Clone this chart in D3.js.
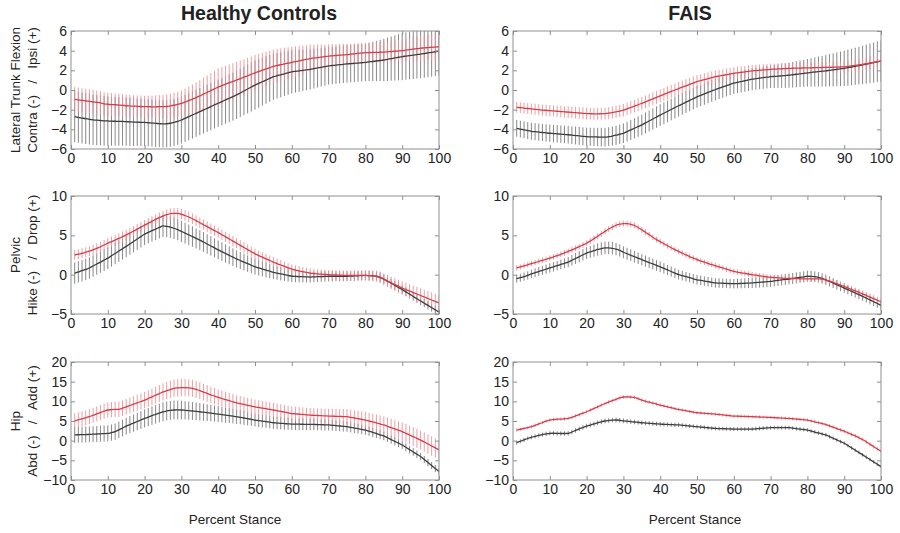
<!DOCTYPE html>
<html>
<head>
<meta charset="utf-8">
<script src="https://cdn.jsdelivr.net/npm/d3@7"></script>
<style>
  body { margin: 0; background: #fff; }
  text { font-family: "Liberation Sans", Arial, sans-serif; fill: #222; }
</style>
</head>
<body>
<div id="chart"></div>
<script>
// percent stance, one sample per percent
var pct = d3.range(1, 101);
var xTicks = [0, 10, 20, 30, 40, 50, 60, 70, 80, 90, 100];

var colTitles = ["Healthy Controls", "FAIS"];
var rowLabels = [
  ["Lateral Trunk Flexion", "Contra (-)   /   Ipsi (+)"],
  ["Pelvic", "Hike (-)   /   Drop (+)"],
  ["Hip", "Abd (-)   /   Add (+)"]
];
var trunkTicks = [-6, -4, -2, 0, 2, 4, 6];
var pelvisTicks = [-5, 0, 5, 10];
var hipTicks = [-10, -5, 0, 5, 10, 15, 20];

// ---- trunk, healthy controls
var trunkHcRed = [
  -0.95,-1.0,-1.05,-1.1,-1.15,-1.2,-1.25,-1.3,-1.4,-1.45,
  -1.48,-1.5,-1.53,-1.56,-1.6,-1.62,-1.64,-1.66,-1.68,-1.7,
  -1.7,-1.71,-1.71,-1.7,-1.7,-1.68,-1.62,-1.55,-1.46,-1.35,
  -1.22,-1.08,-0.93,-0.77,-0.6,-0.42,-0.24,-0.06,0.12,0.3,
  0.45,0.6,0.74,0.87,1.0,1.15,1.3,1.45,1.6,1.75,
  1.88,2.01,2.14,2.27,2.4,2.49,2.57,2.65,2.73,2.8,
  2.88,2.96,3.04,3.12,3.2,3.25,3.3,3.35,3.4,3.45,
  3.48,3.51,3.54,3.57,3.6,3.64,3.68,3.72,3.76,3.8,
  3.81,3.82,3.83,3.84,3.85,3.88,3.91,3.94,3.97,4.0,
  4.05,4.1,4.15,4.2,4.25,4.28,4.31,4.34,4.37,4.4
];
var trunkHcRedSd = [
  1.25,1.24,1.23,1.22,1.21,1.2,1.19,1.18,1.17,1.16,
  1.15,1.15,1.14,1.13,1.13,1.12,1.12,1.11,1.1,1.1,
  1.12,1.14,1.16,1.18,1.2,1.22,1.24,1.26,1.28,1.3,
  1.36,1.42,1.48,1.54,1.6,1.66,1.72,1.78,1.84,1.9,
  1.89,1.88,1.87,1.86,1.85,1.84,1.83,1.82,1.81,1.8,
  1.78,1.76,1.74,1.72,1.7,1.68,1.66,1.64,1.62,1.6,
  1.56,1.52,1.48,1.44,1.4,1.36,1.32,1.28,1.24,1.2,
  1.18,1.16,1.14,1.12,1.1,1.08,1.06,1.04,1.02,1.0,
  1.01,1.02,1.03,1.04,1.05,1.06,1.07,1.08,1.09,1.1,
  1.13,1.16,1.19,1.22,1.25,1.28,1.31,1.34,1.37,1.4
];
var trunkHcGrey = [
  -2.7,-2.78,-2.85,-2.92,-2.98,-3.03,-3.07,-3.1,-3.13,-3.15,
  -3.17,-3.18,-3.19,-3.2,-3.22,-3.24,-3.26,-3.27,-3.29,-3.3,
  -3.33,-3.36,-3.39,-3.42,-3.45,-3.43,-3.38,-3.3,-3.19,-3.05,
  -2.88,-2.71,-2.54,-2.37,-2.2,-2.03,-1.86,-1.69,-1.52,-1.35,
  -1.18,-1.01,-0.84,-0.67,-0.5,-0.3,-0.1,0.1,0.3,0.5,
  0.67,0.84,1.01,1.18,1.35,1.45,1.55,1.65,1.75,1.85,
  1.9,1.95,2.0,2.05,2.1,2.17,2.24,2.31,2.38,2.45,
  2.49,2.53,2.57,2.61,2.65,2.68,2.71,2.74,2.77,2.8,
  2.85,2.9,2.95,3.0,3.05,3.12,3.19,3.26,3.33,3.4,
  3.45,3.5,3.55,3.6,3.65,3.71,3.77,3.83,3.89,3.95
];
var trunkHcGreySd = [
  2.6,2.59,2.58,2.57,2.56,2.55,2.54,2.53,2.52,2.5,
  2.49,2.48,2.47,2.46,2.45,2.44,2.43,2.42,2.41,2.4,
  2.4,2.4,2.4,2.4,2.4,2.4,2.4,2.4,2.4,2.4,
  2.4,2.4,2.4,2.4,2.4,2.4,2.4,2.4,2.4,2.4,
  2.41,2.42,2.43,2.44,2.45,2.46,2.47,2.48,2.49,2.5,
  2.47,2.44,2.41,2.38,2.35,2.32,2.29,2.26,2.23,2.2,
  2.17,2.14,2.11,2.08,2.05,2.02,1.99,1.96,1.93,1.9,
  1.9,1.9,1.9,1.9,1.9,1.9,1.9,1.9,1.9,1.9,
  1.95,2.0,2.05,2.1,2.15,2.2,2.25,2.3,2.35,2.4,
  2.41,2.42,2.43,2.44,2.45,2.46,2.47,2.48,2.49,2.5
];

// ---- trunk, FAIS
var trunkFaisRed = [
  -1.76,-1.8,-1.84,-1.88,-1.92,-1.96,-2.0,-2.04,-2.07,-2.1,
  -2.13,-2.16,-2.19,-2.22,-2.25,-2.28,-2.31,-2.34,-2.37,-2.4,
  -2.41,-2.42,-2.42,-2.41,-2.4,-2.36,-2.3,-2.23,-2.15,-2.05,
  -1.92,-1.78,-1.64,-1.5,-1.35,-1.2,-1.05,-0.9,-0.75,-0.6,
  -0.45,-0.3,-0.15,0.0,0.15,0.29,0.43,0.57,0.71,0.85,
  0.95,1.05,1.15,1.25,1.35,1.42,1.49,1.56,1.63,1.7,
  1.75,1.8,1.85,1.9,1.95,1.98,2.01,2.04,2.07,2.1,
  2.12,2.14,2.16,2.18,2.2,2.21,2.22,2.23,2.24,2.25,
  2.26,2.27,2.28,2.29,2.3,2.31,2.32,2.33,2.34,2.35,
  2.4,2.45,2.5,2.55,2.6,2.67,2.74,2.81,2.88,2.95
];
var trunkFaisRedSd = [
  0.55,0.55,0.55,0.55,0.55,0.56,0.56,0.56,0.57,0.57,
  0.57,0.58,0.58,0.58,0.59,0.59,0.59,0.6,0.6,0.6,
  0.6,0.6,0.6,0.6,0.6,0.61,0.61,0.62,0.62,0.63,
  0.63,0.64,0.64,0.65,0.65,0.65,0.66,0.66,0.66,0.67,
  0.67,0.67,0.67,0.67,0.67,0.67,0.67,0.67,0.67,0.67,
  0.66,0.66,0.65,0.65,0.64,0.64,0.63,0.63,0.62,0.62,
  0.61,0.61,0.6,0.6,0.6,0.59,0.59,0.58,0.58,0.58,
  0.57,0.57,0.57,0.56,0.56,0.56,0.55,0.55,0.55,0.55,
  0.55,0.55,0.55,0.55,0.55,0.55,0.55,0.56,0.56,0.57,
  0.58,0.59,0.6,0.61,0.62,0.63,0.64,0.65,0.66,0.67
];
var trunkFaisGrey = [
  -3.9,-3.98,-4.05,-4.13,-4.2,-4.24,-4.28,-4.32,-4.36,-4.4,
  -4.43,-4.46,-4.49,-4.52,-4.55,-4.59,-4.63,-4.67,-4.71,-4.75,
  -4.76,-4.77,-4.78,-4.79,-4.8,-4.75,-4.68,-4.6,-4.5,-4.4,
  -4.23,-4.06,-3.89,-3.72,-3.55,-3.35,-3.15,-2.95,-2.75,-2.55,
  -2.36,-2.17,-1.98,-1.79,-1.6,-1.42,-1.24,-1.06,-0.88,-0.7,
  -0.55,-0.4,-0.25,-0.1,0.05,0.18,0.31,0.44,0.57,0.7,
  0.78,0.86,0.94,1.02,1.1,1.15,1.2,1.25,1.3,1.35,
  1.38,1.41,1.44,1.47,1.5,1.55,1.6,1.65,1.7,1.75,
  1.79,1.83,1.87,1.91,1.95,2.0,2.05,2.1,2.15,2.2,
  2.27,2.34,2.41,2.48,2.55,2.63,2.71,2.79,2.87,2.95
];
var trunkFaisGreySd = [
  0.85,0.85,0.86,0.86,0.86,0.87,0.87,0.87,0.88,0.88,
  0.88,0.89,0.89,0.89,0.9,0.9,0.91,0.91,0.91,0.92,
  0.92,0.93,0.93,0.94,0.95,0.96,0.97,0.98,0.99,1.0,
  1.01,1.02,1.03,1.04,1.05,1.06,1.07,1.08,1.09,1.1,
  1.1,1.1,1.1,1.1,1.1,1.1,1.1,1.1,1.1,1.1,
  1.1,1.1,1.1,1.1,1.1,1.1,1.1,1.1,1.1,1.1,
  1.1,1.11,1.11,1.12,1.12,1.13,1.13,1.14,1.14,1.15,
  1.17,1.2,1.22,1.25,1.27,1.3,1.32,1.35,1.37,1.4,
  1.44,1.48,1.52,1.56,1.6,1.64,1.68,1.72,1.76,1.8,
  1.83,1.86,1.89,1.92,1.95,1.98,2.01,2.04,2.07,2.1
];

// ---- pelvis, healthy controls
var pelvisHcRed = [
  2.5,2.6,2.72,2.85,2.98,3.15,3.35,3.55,3.77,4.0,
  4.2,4.4,4.61,4.83,5.05,5.29,5.54,5.79,6.04,6.3,
  6.54,6.78,7.02,7.25,7.45,7.62,7.75,7.8,7.78,7.68,
  7.52,7.33,7.11,6.87,6.6,6.35,6.1,5.85,5.6,5.35,
  5.08,4.81,4.54,4.27,4.0,3.73,3.46,3.19,2.92,2.65,
  2.43,2.22,2.01,1.8,1.6,1.41,1.23,1.05,0.87,0.7,
  0.59,0.48,0.38,0.29,0.2,0.15,0.1,0.06,0.03,0.0,
  -0.02,-0.04,-0.06,-0.08,-0.1,-0.1,-0.1,-0.1,-0.1,-0.1,
  -0.12,-0.15,-0.2,-0.35,-0.6,-0.82,-1.04,-1.26,-1.48,-1.7,
  -1.89,-2.08,-2.27,-2.46,-2.65,-2.84,-3.03,-3.22,-3.41,-3.6
];
var pelvisHcRedSd = [
  0.62,0.62,0.63,0.63,0.63,0.64,0.64,0.64,0.65,0.65,
  0.65,0.65,0.65,0.65,0.65,0.65,0.65,0.65,0.65,0.65,
  0.66,0.66,0.67,0.67,0.67,0.68,0.68,0.68,0.68,0.68,
  0.68,0.68,0.67,0.67,0.67,0.66,0.66,0.66,0.65,0.65,
  0.65,0.65,0.65,0.65,0.65,0.65,0.65,0.65,0.65,0.65,
  0.64,0.64,0.63,0.63,0.62,0.62,0.61,0.61,0.6,0.6,
  0.6,0.6,0.6,0.6,0.6,0.6,0.6,0.6,0.6,0.6,
  0.6,0.6,0.61,0.61,0.62,0.62,0.63,0.63,0.64,0.65,
  0.67,0.69,0.71,0.73,0.75,0.77,0.79,0.81,0.83,0.85,
  0.87,0.88,0.9,0.91,0.93,0.94,0.95,0.97,0.98,1.0
];
var pelvisHcGrey = [
  0.2,0.35,0.5,0.67,0.85,1.1,1.35,1.6,1.85,2.1,
  2.4,2.7,3.0,3.3,3.6,3.91,4.22,4.53,4.84,5.15,
  5.38,5.6,5.8,6.0,6.2,6.15,6.05,5.9,5.72,5.5,
  5.28,5.06,4.84,4.62,4.4,4.15,3.9,3.65,3.4,3.15,
  2.92,2.69,2.46,2.23,2.0,1.8,1.6,1.4,1.2,1.0,
  0.86,0.72,0.58,0.44,0.3,0.2,0.1,0.0,-0.1,-0.2,
  -0.22,-0.24,-0.26,-0.28,-0.3,-0.28,-0.26,-0.24,-0.22,-0.2,
  -0.2,-0.2,-0.2,-0.2,-0.2,-0.18,-0.16,-0.14,-0.12,-0.1,
  -0.12,-0.15,-0.2,-0.35,-0.55,-0.82,-1.09,-1.36,-1.63,-1.9,
  -2.19,-2.48,-2.77,-3.06,-3.35,-3.63,-3.91,-4.19,-4.47,-4.75
];
var pelvisHcGreySd = [
  1.35,1.35,1.35,1.36,1.36,1.36,1.36,1.37,1.37,1.37,
  1.37,1.37,1.38,1.38,1.38,1.38,1.39,1.39,1.39,1.39,
  1.4,1.4,1.4,1.4,1.4,1.39,1.38,1.36,1.35,1.34,
  1.33,1.31,1.3,1.28,1.27,1.26,1.24,1.23,1.21,1.2,
  1.18,1.16,1.14,1.12,1.1,1.08,1.06,1.04,1.02,1.0,
  0.98,0.95,0.93,0.9,0.88,0.85,0.83,0.8,0.78,0.75,
  0.74,0.73,0.72,0.71,0.7,0.69,0.68,0.67,0.66,0.66,
  0.65,0.64,0.64,0.63,0.63,0.62,0.62,0.61,0.61,0.6,
  0.6,0.59,0.59,0.58,0.58,0.57,0.57,0.56,0.56,0.55,
  0.55,0.54,0.54,0.53,0.53,0.52,0.52,0.51,0.51,0.5
];

// ---- pelvis, FAIS
var pelvisFaisRed = [
  0.85,0.98,1.12,1.26,1.4,1.54,1.68,1.82,1.96,2.1,
  2.26,2.42,2.59,2.77,2.95,3.15,3.35,3.56,3.78,4.0,
  4.28,4.58,4.88,5.2,5.5,5.8,6.05,6.28,6.42,6.5,
  6.48,6.4,6.25,6.0,5.7,5.4,5.08,4.76,4.46,4.2,
  3.93,3.67,3.42,3.18,2.95,2.73,2.51,2.3,2.1,1.9,
  1.74,1.58,1.43,1.28,1.14,1.0,0.85,0.7,0.56,0.42,
  0.33,0.24,0.16,0.08,0.0,-0.07,-0.14,-0.21,-0.28,-0.34,
  -0.37,-0.4,-0.43,-0.46,-0.48,-0.5,-0.51,-0.52,-0.53,-0.53,
  -0.53,-0.53,-0.53,-0.58,-0.68,-0.82,-0.98,-1.14,-1.32,-1.5,
  -1.69,-1.88,-2.07,-2.26,-2.45,-2.65,-2.85,-3.05,-3.25,-3.45
];
var pelvisFaisRedSd = [
  0.33,0.33,0.33,0.34,0.34,0.34,0.34,0.35,0.35,0.35,
  0.35,0.35,0.36,0.36,0.36,0.36,0.37,0.37,0.37,0.37,
  0.38,0.38,0.38,0.38,0.38,0.38,0.38,0.38,0.38,0.38,
  0.38,0.38,0.37,0.37,0.37,0.37,0.36,0.36,0.36,0.36,
  0.35,0.35,0.35,0.35,0.35,0.35,0.35,0.35,0.35,0.35,
  0.35,0.35,0.35,0.35,0.35,0.35,0.35,0.35,0.35,0.35,
  0.35,0.35,0.35,0.35,0.35,0.35,0.35,0.35,0.35,0.35,
  0.35,0.35,0.36,0.36,0.36,0.37,0.37,0.37,0.38,0.38,
  0.38,0.39,0.39,0.39,0.4,0.4,0.4,0.41,0.41,0.41,
  0.42,0.42,0.42,0.43,0.43,0.43,0.44,0.44,0.44,0.45
];
var pelvisFaisGrey = [
  -0.5,-0.38,-0.25,-0.1,0.1,0.25,0.4,0.55,0.7,0.85,
  1.0,1.15,1.3,1.45,1.6,1.83,2.06,2.29,2.52,2.75,
  2.9,3.05,3.2,3.32,3.4,3.4,3.35,3.25,3.08,2.85,
  2.66,2.47,2.28,2.09,1.9,1.72,1.54,1.36,1.18,1.0,
  0.8,0.6,0.4,0.2,0.0,-0.13,-0.26,-0.39,-0.52,-0.65,
  -0.73,-0.81,-0.89,-0.97,-1.05,-1.07,-1.09,-1.11,-1.13,-1.15,
  -1.13,-1.11,-1.09,-1.07,-1.05,-1.01,-0.97,-0.93,-0.89,-0.85,
  -0.79,-0.73,-0.67,-0.61,-0.55,-0.48,-0.41,-0.34,-0.27,-0.2,
  -0.22,-0.26,-0.35,-0.48,-0.65,-0.86,-1.07,-1.28,-1.49,-1.7,
  -1.91,-2.12,-2.33,-2.54,-2.75,-2.98,-3.21,-3.44,-3.67,-3.9
];
var pelvisFaisGreySd = [
  0.5,0.51,0.52,0.53,0.54,0.55,0.56,0.57,0.58,0.59,
  0.6,0.61,0.62,0.63,0.65,0.67,0.69,0.71,0.73,0.75,
  0.76,0.77,0.78,0.79,0.8,0.8,0.8,0.79,0.78,0.77,
  0.76,0.75,0.74,0.73,0.72,0.71,0.7,0.69,0.68,0.67,
  0.66,0.65,0.64,0.63,0.62,0.61,0.6,0.6,0.6,0.6,
  0.6,0.6,0.6,0.6,0.6,0.6,0.6,0.6,0.6,0.6,
  0.61,0.62,0.63,0.64,0.65,0.66,0.67,0.68,0.69,0.7,
  0.7,0.7,0.7,0.7,0.7,0.7,0.7,0.7,0.7,0.7,
  0.69,0.68,0.67,0.66,0.65,0.64,0.63,0.62,0.61,0.6,
  0.59,0.59,0.58,0.58,0.57,0.57,0.56,0.56,0.55,0.55
];

// ---- hip, healthy controls
var hipHcRed = [
  5.05,5.3,5.55,5.82,6.1,6.45,6.8,7.15,7.5,7.8,
  7.88,7.93,7.95,8.25,8.6,8.94,9.28,9.62,9.96,10.3,
  10.72,11.14,11.56,11.98,12.4,12.72,13.0,13.3,13.42,13.5,
  13.48,13.42,13.3,13.05,12.7,12.35,12.0,11.66,11.32,11.0,
  10.72,10.44,10.16,9.88,9.6,9.4,9.2,9.0,8.8,8.6,
  8.44,8.28,8.12,7.96,7.8,7.62,7.44,7.26,7.08,6.9,
  6.82,6.74,6.66,6.58,6.5,6.45,6.4,6.35,6.3,6.25,
  6.22,6.19,6.16,6.13,6.1,5.93,5.76,5.59,5.42,5.25,
  5.0,4.75,4.5,4.25,4.0,3.66,3.32,2.98,2.64,2.3,
  1.87,1.44,1.01,0.58,0.15,-0.35,-0.85,-1.35,-1.85,-2.35
];
var hipHcRedSd = [
  1.9,1.9,1.91,1.91,1.92,1.92,1.93,1.93,1.94,1.94,
  1.95,1.96,1.97,1.98,1.99,2.0,2.02,2.04,2.06,2.08,
  2.1,2.12,2.14,2.16,2.18,2.2,2.2,2.2,2.2,2.2,
  2.19,2.18,2.17,2.16,2.15,2.13,2.11,2.09,2.07,2.05,
  2.03,2.01,1.99,1.97,1.95,1.93,1.91,1.89,1.87,1.85,
  1.84,1.84,1.83,1.83,1.82,1.82,1.81,1.81,1.8,1.8,
  1.8,1.8,1.81,1.81,1.82,1.82,1.83,1.83,1.84,1.85,
  1.86,1.88,1.9,1.92,1.94,1.96,1.98,2.0,2.02,2.05,
  2.08,2.11,2.14,2.17,2.2,2.23,2.26,2.29,2.32,2.35,
  2.37,2.38,2.4,2.41,2.43,2.44,2.46,2.47,2.49,2.5
];
var hipHcGrey = [
  1.45,1.5,1.53,1.56,1.6,1.65,1.7,1.75,1.8,1.85,
  2.05,2.3,2.75,3.22,3.7,4.09,4.48,4.87,5.26,5.65,
  6.0,6.35,6.7,7.03,7.35,7.55,7.7,7.8,7.82,7.8,
  7.72,7.63,7.54,7.45,7.35,7.23,7.11,6.99,6.87,6.75,
  6.62,6.49,6.36,6.23,6.1,5.93,5.76,5.59,5.42,5.25,
  5.11,4.97,4.83,4.69,4.55,4.48,4.41,4.34,4.27,4.2,
  4.19,4.18,4.17,4.16,4.15,4.12,4.09,4.06,4.03,4.0,
  3.91,3.82,3.73,3.64,3.55,3.38,3.21,3.04,2.87,2.7,
  2.4,2.1,1.8,1.5,1.2,0.74,0.28,-0.18,-0.64,-1.1,
  -1.69,-2.28,-2.87,-3.46,-4.05,-4.81,-5.57,-6.33,-7.09,-7.85
];
var hipHcGreySd = [
  2.0,2.0,2.0,2.01,2.01,2.02,2.02,2.03,2.03,2.04,
  2.06,2.08,2.1,2.12,2.14,2.17,2.2,2.23,2.26,2.29,
  2.32,2.35,2.37,2.39,2.4,2.4,2.4,2.39,2.38,2.36,
  2.33,2.3,2.27,2.24,2.21,2.18,2.14,2.1,2.06,2.02,
  1.98,1.94,1.9,1.86,1.82,1.78,1.74,1.7,1.66,1.62,
  1.6,1.59,1.58,1.57,1.56,1.55,1.54,1.53,1.52,1.5,
  1.5,1.49,1.48,1.47,1.46,1.45,1.44,1.43,1.42,1.4,
  1.38,1.36,1.34,1.32,1.3,1.28,1.26,1.24,1.22,1.2,
  1.18,1.16,1.14,1.12,1.1,1.08,1.06,1.04,1.02,1.0,
  0.99,0.98,0.97,0.96,0.95,0.94,0.93,0.92,0.91,0.9
];

// ---- hip, FAIS
var hipFaisRed = [
  2.7,2.9,3.1,3.32,3.55,3.9,4.25,4.6,4.95,5.25,
  5.38,5.46,5.5,5.57,5.65,5.95,6.28,6.62,6.98,7.35,
  7.76,8.18,8.6,9.03,9.45,9.82,10.18,10.52,10.85,11.1,
  11.15,11.1,11.0,10.7,10.3,10.04,9.78,9.54,9.3,9.05,
  8.82,8.6,8.38,8.16,7.95,7.78,7.61,7.44,7.27,7.1,
  7.03,6.96,6.89,6.82,6.75,6.65,6.55,6.45,6.35,6.25,
  6.22,6.19,6.16,6.13,6.1,6.06,6.02,5.98,5.94,5.9,
  5.85,5.8,5.75,5.7,5.65,5.57,5.49,5.41,5.33,5.25,
  5.02,4.79,4.56,4.33,4.1,3.76,3.42,3.08,2.74,2.4,
  2.0,1.6,1.2,0.75,0.3,-0.3,-0.9,-1.5,-2.1,-2.7
];
var hipFaisRedSd = [
  0.42,0.42,0.42,0.43,0.43,0.43,0.43,0.44,0.44,0.44,
  0.44,0.44,0.45,0.45,0.45,0.45,0.45,0.46,0.46,0.46,
  0.46,0.46,0.47,0.47,0.47,0.47,0.47,0.47,0.47,0.47,
  0.47,0.47,0.47,0.47,0.46,0.46,0.46,0.46,0.45,0.45,
  0.45,0.45,0.44,0.44,0.44,0.44,0.43,0.43,0.43,0.43,
  0.42,0.42,0.42,0.42,0.42,0.42,0.42,0.42,0.42,0.42,
  0.42,0.42,0.42,0.42,0.42,0.42,0.42,0.42,0.42,0.42,
  0.42,0.42,0.43,0.43,0.43,0.43,0.44,0.44,0.44,0.44,
  0.45,0.45,0.45,0.46,0.46,0.46,0.47,0.47,0.47,0.48,
  0.48,0.48,0.49,0.49,0.49,0.5,0.5,0.5,0.51,0.51
];
var hipFaisGrey = [
  -0.5,-0.15,0.2,0.55,0.85,1.1,1.35,1.55,1.72,1.85,
  1.88,1.85,1.82,1.82,1.85,2.2,2.6,3.0,3.35,3.7,
  3.98,4.26,4.54,4.8,5.0,5.12,5.22,5.25,5.18,5.05,
  4.95,4.85,4.75,4.65,4.55,4.48,4.41,4.34,4.27,4.2,
  4.16,4.12,4.08,4.04,4.0,3.91,3.82,3.73,3.64,3.55,
  3.46,3.37,3.28,3.19,3.1,3.07,3.04,3.01,2.98,2.95,
  2.95,2.95,2.95,2.95,2.95,3.02,3.09,3.16,3.23,3.3,
  3.3,3.3,3.3,3.3,3.3,3.18,3.06,2.94,2.82,2.7,
  2.45,2.2,1.95,1.7,1.45,1.03,0.61,0.19,-0.23,-0.65,
  -1.24,-1.83,-2.42,-3.01,-3.6,-4.2,-4.8,-5.4,-6.0,-6.6
];
var hipFaisGreySd = [
  0.5,0.5,0.51,0.51,0.52,0.52,0.53,0.53,0.54,0.54,
  0.55,0.55,0.56,0.56,0.57,0.57,0.58,0.58,0.59,0.59,
  0.6,0.6,0.6,0.6,0.6,0.6,0.6,0.6,0.6,0.6,
  0.59,0.59,0.58,0.58,0.57,0.57,0.56,0.56,0.55,0.55,
  0.54,0.54,0.53,0.53,0.52,0.52,0.51,0.51,0.5,0.5,
  0.5,0.5,0.5,0.5,0.5,0.5,0.5,0.5,0.5,0.5,
  0.5,0.5,0.5,0.5,0.5,0.5,0.5,0.5,0.5,0.5,
  0.5,0.5,0.5,0.5,0.5,0.5,0.5,0.5,0.5,0.5,
  0.49,0.49,0.48,0.48,0.47,0.47,0.46,0.46,0.45,0.45,
  0.45,0.45,0.45,0.45,0.45,0.45,0.45,0.45,0.45,0.45
];

function init() {
  var w = 900, h = 533;
  var colLeft = [71, 513];
  var rowTop = [31, 196, 362];
  var pw = 368, ph = 118;

  var redLine = "#d43d47", redBar = "#ec8f96";
  var greyLine = "#3d3d3d", greyBar = "#7d7d7d";
  var boxColor = "#8f8f8f";

  var panels = [
    {row: 0, col: 0, ticks: trunkTicks, red: trunkHcRed, redSd: trunkHcRedSd, grey: trunkHcGrey, greySd: trunkHcGreySd},
    {row: 0, col: 1, ticks: trunkTicks, red: trunkFaisRed, redSd: trunkFaisRedSd, grey: trunkFaisGrey, greySd: trunkFaisGreySd},
    {row: 1, col: 0, ticks: pelvisTicks, red: pelvisHcRed, redSd: pelvisHcRedSd, grey: pelvisHcGrey, greySd: pelvisHcGreySd},
    {row: 1, col: 1, ticks: pelvisTicks, red: pelvisFaisRed, redSd: pelvisFaisRedSd, grey: pelvisFaisGrey, greySd: pelvisFaisGreySd},
    {row: 2, col: 0, ticks: hipTicks, red: hipHcRed, redSd: hipHcRedSd, grey: hipHcGrey, greySd: hipHcGreySd},
    {row: 2, col: 1, ticks: hipTicks, red: hipFaisRed, redSd: hipFaisRedSd, grey: hipFaisGrey, greySd: hipFaisGreySd}
  ];

  var svg = d3.select("#chart").append("svg")
      .attr("width", w)
      .attr("height", h);
  var defs = svg.append("defs");

  panels.forEach(function(p, i) {
    var g = svg.append("g")
        .attr("transform", "translate(" + colLeft[p.col] + "," + rowTop[p.row] + ")");

    var xScale = d3.scaleLinear().domain([0, 100]).range([0, pw]);
    var yScale = d3.scaleLinear()
        .domain([p.ticks[0], p.ticks[p.ticks.length - 1]])
        .range([ph, 0]);

    defs.append("clipPath").attr("id", "clip" + i)
      .append("rect").attr("width", pw).attr("height", ph);
    var plot = g.append("g").attr("clip-path", "url(#clip" + i + ")");

    // error bars then mean line, grey group first
    function drawBars(mean, sd, color, opacity) {
      plot.append("g").selectAll("line")
        .data(pct)
        .enter()
        .append("line")
        .attr("x1", function(d) { return xScale(d); })
        .attr("x2", function(d) { return xScale(d); })
        .attr("y1", function(d, k) { return yScale(mean[k] - sd[k]); })
        .attr("y2", function(d, k) { return yScale(mean[k] + sd[k]); })
        .attr("stroke", color)
        .attr("stroke-width", 1)
        .attr("opacity", opacity);
    }
    function drawMean(mean, color) {
      var line = d3.line()
          .x(function(d) { return xScale(d); })
          .y(function(d, k) { return yScale(mean[k]); })
          .curve(d3.curveMonotoneX);
      plot.append("path")
        .datum(pct)
        .attr("d", line)
        .attr("fill", "none")
        .attr("stroke", color)
        .attr("stroke-width", 1.3);
    }
    drawBars(p.grey, p.greySd, greyBar, 0.9);
    drawBars(p.red, p.redSd, redBar, 0.85);
    drawMean(p.grey, greyLine);
    drawMean(p.red, redLine);

    // box
    g.append("rect")
      .attr("width", pw).attr("height", ph)
      .attr("fill", "none")
      .attr("stroke", boxColor)
      .attr("stroke-width", 1);

    // axes, ticks pointing inward like matlab
    var xAxis = g.append("g").attr("transform", "translate(0," + ph + ")")
      .call(d3.axisBottom(xScale).tickValues(xTicks).tickSize(-4).tickPadding(4));
    var xTop = g.append("g")
      .call(d3.axisTop(xScale).tickValues(xTicks).tickSize(-4).tickFormat(""));
    var yAxis = g.append("g")
      .call(d3.axisLeft(yScale).tickValues(p.ticks).tickSize(-4).tickPadding(4));
    var yRight = g.append("g").attr("transform", "translate(" + pw + ",0)")
      .call(d3.axisRight(yScale).tickValues(p.ticks).tickSize(-4).tickFormat(""));

    [xAxis, xTop, yAxis, yRight].forEach(function(a) {
      a.select(".domain").remove();
      a.selectAll(".tick line").attr("stroke", boxColor);
      a.selectAll(".tick text")
        .style("font-family", "'Liberation Sans', Arial, sans-serif")
        .style("font-size", "14px")
        .attr("fill", "#222");
    });

    // column titles
    if (p.row == 0) {
      svg.append("text")
        .attr("x", colLeft[p.col] + pw / 2 + (p.col == 0 ? 4 : -7))
        .attr("y", 20)
        .attr("text-anchor", "middle")
        .style("font-size", "19.5px")
        .style("font-weight", "bold")
        .text(colTitles[p.col]);
    }
    // x label on bottom row
    if (p.row == 2) {
      svg.append("text")
        .attr("x", colLeft[p.col] + pw / 2 + (p.col == 0 ? -20 : -2))
        .attr("y", 524)
        .attr("text-anchor", "middle")
        .style("font-size", "13.5px")
        .text("Percent Stance");
    }
    // y labels, two lines, on left column
    if (p.col == 0) {
      var cy = rowTop[p.row] + ph / 2;
      rowLabels[p.row].forEach(function(s, k) {
        svg.append("text")
          .attr("transform", "translate(" + (20 + k * 17) + "," + cy + ") rotate(-90)")
          .attr("text-anchor", "middle")
          .attr("xml:space", "preserve")
          .style("white-space", "pre")
          .style("font-size", "13.5px")
          .attr("fill", "#333")
          .text(s);
      });
    }
  });
}
window.onload = init;
</script>
</body>
</html>
